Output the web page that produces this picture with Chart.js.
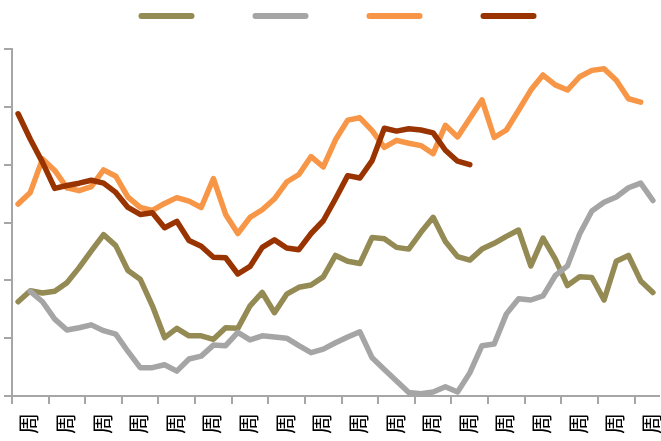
<!DOCTYPE html>
<html>
<head>
<meta charset="utf-8">
<script src="https://cdn.jsdelivr.net/npm/chart.js@4/dist/chart.umd.min.js"></script>
<style>
  html, body { margin: 0; padding: 0; background: #fff; }
  #wrap { width: 661px; height: 441px; }
</style>
</head>
<body>
<div id="wrap"><canvas id="chart"></canvas></div>
<script>
// 53 weekly points, one "周" label shown per group of 3
const weeks = Array.from({ length: 53 }, () => '周');
const labelEvery = 3;

const olive = [1.63, 1.82, 1.78, 1.81, 1.96, 2.22, 2.51, 2.79, 2.60, 2.17, 2.02, 1.56, 1.01, 1.17, 1.04, 1.04, 0.98, 1.18,
  1.17, 1.56, 1.79, 1.44, 1.76, 1.88, 1.92, 2.06, 2.43, 2.33, 2.29, 2.74, 2.72, 2.57, 2.54, 2.83, 3.09, 2.67,
  2.41, 2.35, 2.54, 2.64, 2.76, 2.87, 2.25, 2.73, 2.37, 1.91, 2.06, 2.05, 1.66, 2.33, 2.43, 1.99, 1.79];
const gray = [null, 1.81, 1.63, 1.33, 1.14, 1.18, 1.23, 1.13, 1.07, 0.77, 0.49, 0.49, 0.54, 0.43, 0.64, 0.69, 0.88, 0.87,
  1.10, 0.97, 1.04, 1.02, 1.00, 0.87, 0.75, 0.81, 0.92, 1.02, 1.11, 0.66, 0.46, 0.26, 0.06, 0.04, 0.07, 0.16,
  0.07, 0.40, 0.87, 0.90, 1.42, 1.68, 1.66, 1.73, 2.08, 2.25, 2.80, 3.20, 3.35, 3.44, 3.60, 3.68, 3.38];
const orange = [3.32, 3.52, 4.10, 3.90, 3.60, 3.55, 3.62, 3.91, 3.80, 3.44, 3.26, 3.21, 3.33, 3.43, 3.37, 3.26, 3.76, 3.14,
  2.81, 3.09, 3.22, 3.41, 3.70, 3.83, 4.14, 3.96, 4.43, 4.77, 4.81, 4.59, 4.30, 4.42, 4.37, 4.33, 4.19, 4.68,
  4.48, 4.80, 5.12, 4.47, 4.60, 4.94, 5.29, 5.55, 5.38, 5.29, 5.52, 5.63, 5.66, 5.46, 5.14, 5.08, null];
const darkRed = [4.88, 4.44, 4.04, 3.59, 3.64, 3.68, 3.73, 3.68, 3.52, 3.26, 3.14, 3.17, 2.91, 3.02, 2.69, 2.59, 2.40, 2.39,
  2.11, 2.24, 2.57, 2.70, 2.56, 2.53, 2.81, 3.03, 3.41, 3.81, 3.77, 4.07, 4.63, 4.58, 4.62, 4.60, 4.55, 4.25,
  4.06, 4.00];

const yTicks = [0, 1, 2, 3, 4, 5, 6];

const colors = ['#948A54', '#A5A5A5', '#F79646', '#993300'];
const axisColor = '#A6A6A6';
const cjk = "'Noto Sans CJK SC', 'Noto Sans', sans-serif";

const series = [olive, gray, orange, darkRed];

new Chart(document.getElementById('chart'), {
  type: 'line',
  data: {
    labels: weeks,
    datasets: series.map((values, i) => ({
      data: values,
      borderColor: colors[i],
      backgroundColor: colors[i],
      borderWidth: 5.5,
      borderCapStyle: 'round',
      borderJoinStyle: 'round',
      pointRadius: 0,
      tension: 0,
      spanGaps: false,
      order: series.length - i
    }))
  },
  options: {
    responsive: true,
    maintainAspectRatio: false,
    animation: false,
    layout: { padding: { top: 6, left: 4, right: 2, bottom: -2 } },
    plugins: {
      tooltip: { enabled: false },
      title: {
        display: true,
        text: '',
        weight: 500,
        font: { size: 10, lineHeight: 1 },
        padding: { top: 0, bottom: 7 }
      },
      legend: {
        display: true,
        position: 'top',
        rtl: true,
        labels: {
          boxWidth: 56,
          boxHeight: 6,
          padding: 4,
          font: { family: cjk, size: 12 },
          // drawn right-to-left, so the list is reversed; blank text keeps the gaps
          generateLabels: (chart) => colors.map((c, i) => ({
            text: i === 0 ? '\u2002' : '\u3000\u3000\u3000\u3000',
            fillStyle: c,
            strokeStyle: c,
            lineWidth: 0,
            borderRadius: 3,
            fontColor: 'transparent',
            hidden: false,
            datasetIndex: i
          })).reverse()
        }
      }
    },
    scales: {
      x: {
        type: 'category',
        offset: true,
        grid: {
          offset: true,
          drawOnChartArea: false,
          drawTicks: true,
          tickLength: 8,
          lineWidth: 2,
          tickColor: (ctx) => (ctx.index !== undefined && ctx.index % labelEvery === 0) ? axisColor : 'transparent'
        },
        border: { display: true, color: axisColor, width: 2 },
        ticks: {
          autoSkip: false,
          minRotation: 90,
          maxRotation: 90,
          padding: 9,
          labelOffset: -2,
          color: '#000',
          font: { family: cjk, size: 21 },
          callback: (v, i) => (i % labelEvery === 1 ? weeks[i] : '')
        },
        afterFit: (scale) => { scale.paddingLeft = 0; scale.paddingRight = 0; }
      },
      y: {
        min: 0,
        max: 6,
        afterBuildTicks: (scale) => { scale.ticks = yTicks.map(v => ({ value: v })); },
        ticks: { display: false },
        grid: {
          drawOnChartArea: false,
          drawTicks: true,
          tickLength: 8,
          lineWidth: 2,
          color: axisColor,
          tickColor: axisColor
        },
        border: { display: true, color: axisColor, width: 2 }
      }
    }
  }
});
</script>
</body>
</html>
